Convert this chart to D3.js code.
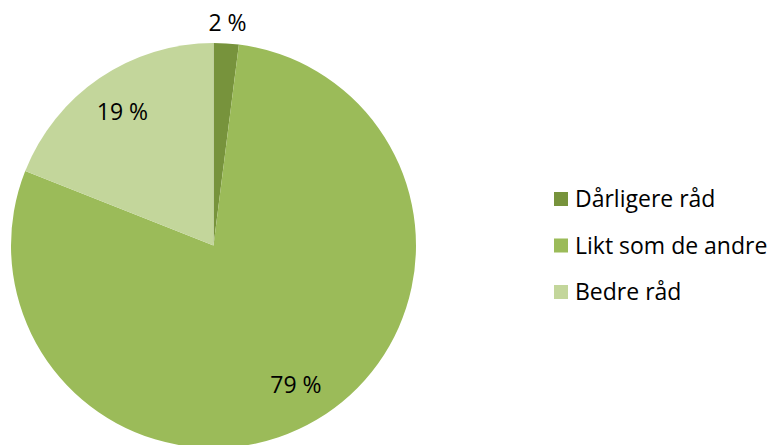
<!DOCTYPE html>
<meta charset="utf-8">
<style>
body { margin: 0; background: #fff; }
text { font-family: "Open Sans", sans-serif; font-size: 23px; fill: #000; }
</style>
<body>
<div class="chart"></div>
<script src="https://cdn.jsdelivr.net/npm/d3@7"></script>
<script>

var categories = ["Dårligere råd", "Likt som de andre", "Bedre råd"];
var values = [2, 79, 19];
var labels = ["2 %", "79 %", "19 %"];
var colors = ["#77933C", "#9BBB59", "#C3D69B"];

var width = 769, height = 445;
var cx = 213.5, cy = 245.5, radius = 202.5;

var svg = d3.select(".chart")
        .append("svg")
        .attr("width", width)
        .attr("height", height);

var color = d3.scaleOrdinal().domain(categories).range(colors);

var pie = d3.pie().sort(null).value(function(d) { return d.value; });
var data = categories.map(function(c, i) { return { name: c, value: values[i], label: labels[i] }; });

var arc = d3.arc().innerRadius(0).outerRadius(radius);

var g = svg.append("g").attr("transform", "translate(" + cx + "," + cy + ")");

var slices = pie(data);

g.selectAll("path")
        .data(slices)
        .enter()
        .append("path")
        .attr("d", arc)
        .style("fill", function(d) { return color(d.data.name); });

// small slice gets its label outside, the rest inside
g.selectAll(".lbl")
        .data(slices)
        .enter()
        .append("text")
        .attr("class", "lbl")
        .attr("text-anchor", "middle")
        .attr("dy", ".35em")
        .attr("transform", function(d) {
            var r = (d.endAngle - d.startAngle) < 0.3 ? radius * 1.1 : radius * 0.8;
            var a = (d.startAngle + d.endAngle) / 2;
            return "translate(" + (Math.sin(a) * r) + "," + (-Math.cos(a) * r) + ")";
        })
        .text(function(d) { return d.data.label; });

var legend = svg.append("g").attr("transform", "translate(554,199)");

var item = legend.selectAll(".item")
        .data(categories)
        .enter()
        .append("g")
        .attr("class", "item")
        .attr("transform", function(d, i) { return "translate(0," + (i * 46.5) + ")"; });

item.append("rect")
        .attr("x", 0)
        .attr("y", -7)
        .attr("width", 14)
        .attr("height", 14)
        .style("fill", function(d) { return color(d); });

item.append("text")
        .attr("x", 21)
        .attr("dy", ".35em")
        .text(function(d) { return d; });

</script>
</body>
